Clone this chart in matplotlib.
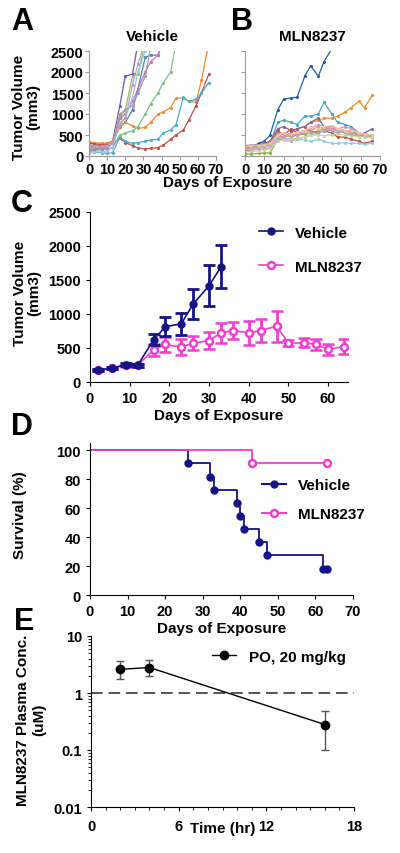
import numpy as np
import matplotlib
matplotlib.use('Agg')
import matplotlib.pyplot as plt

plt.rcParams['font.family'] = ['Liberation Sans', 'DejaVu Sans']
plt.rcParams['font.weight'] = 'bold'
plt.rcParams['axes.labelweight'] = 'bold'

# ---- data ----
# A / B: individual tumours (days of measurement)
days_ab = [0, 3, 7, 10, 13, 17, 20, 24, 27, 31, 34, 38, 41, 45, 48, 52, 55, 59, 62, 66]
veh_colors = ['#6E5AA8', '#4F81BD', '#A8B84A', '#F08A2C', '#C0504D', '#4BACC6',
              '#7CC08A', '#D070B0', '#93CDDD', '#A0A0A0', '#B3A2C7']
veh_mice = [
    [200, 230, 260, 300, 350, 1200, 1900, 1950, 2700],
    [150, 170, 200, 220, 300, 700, 800, 1100, 1600, 2350, 2400, 2400, 2800],
    [250, 260, 280, 300, 350, 900, 1100, 1900, 1950, 2700],
    [330, 320, 300, 310, 350, 700, 800, 720, 660, 680, 800, 1000, 1050, 1150, 1380, 1380, 1300, 1280, 1800, 2700],
    [300, 290, 270, 260, 300, 420, 320, 250, 190, 170, 180, 200, 260, 400, 500, 620, 850, 1200, 1500, 1950],
    [100, 90, 80, 60, 80, 450, 350, 300, 320, 350, 380, 400, 550, 620, 750, 1400, 1300, 1350, 1500, 1750],
    [120, 130, 150, 170, 200, 500, 550, 600, 700, 1000, 1250, 1500, 1750, 2000, 2700],
    [150, 160, 170, 200, 300, 900, 1000, 1300, 1600, 2000, 2250, 2400, 2700],
    [80, 90, 100, 120, 200, 800, 900, 1400, 2000, 2500, 2700],
    [200, 210, 220, 250, 300, 1000, 1100, 1200, 1500, 1900, 2600],
    [250, 240, 230, 240, 300, 750, 900, 1700, 2200, 2700],
]
mln_colors = ['#1F5FA8', '#3FA9C4', '#F08A2C', '#8064A2', '#C0504D', '#8CB43C',
              '#93CDDD', '#A5A5A5', '#E58FC0', '#B3A2C7', '#C4D79B', '#FAC090']
mln_mice = [
    [150, 200, 300, 350, 500, 1100, 1350, 1380, 1400, 1900, 2150, 1900, 2250, 2550],
    [100, 150, 200, 250, 300, 800, 850, 800, 750, 950, 950, 1000, 1280, 1000, 800, 750, 700, 550, 500, 480],
    [150, 180, 250, 300, 330, 500, 450, 550, 650, 700, 800, 850, 900, 900, 950, 1050, 1150, 1300, 1150, 1450],
    [200, 230, 260, 300, 350, 650, 700, 600, 650, 700, 800, 900, 700, 700, 650, 600, 600, 500, 550, 650],
    [200, 220, 250, 280, 300, 600, 500, 650, 550, 600, 600, 550, 600, 550, 450, 450, 400, 350, 300, 350],
    [50, 50, 60, 70, 80, 400, 450, 500, 500, 520, 550, 600, 650, 650, 600, 550, 500, 500, 480, 450],
    [150, 170, 200, 220, 250, 450, 400, 420, 400, 380, 350, 400, 350, 300, 300, 320, 300, 300, 280, 300],
    [250, 260, 270, 280, 300, 550, 500, 450, 500, 550, 600, 700, 650, 600, 550, 600, 550, 500, 500, 480],
    [180, 190, 200, 220, 260, 500, 450, 500, 520, 600, 650, 750, 700, 650, 650, 700, 650, 550, 500, 500],
    [120, 130, 150, 170, 200, 400, 380, 350, 400, 450, 500, 550, 600, 620, 600, 550, 500, 480, 450, 450],
    [100, 110, 130, 150, 180, 350, 380, 400, 420, 450, 500, 500, 480, 500, 520, 500, 480, 460, 450, 440],
    [220, 230, 250, 260, 300, 500, 550, 520, 560, 600, 700, 650, 700, 720, 650, 600, 600, 550, 520, 500],
]

# C: mean tumour volume
days_c = [2, 5.5, 9, 12, 16, 19, 23, 26, 30, 33, 36, 40, 43, 47, 50, 54, 57, 60, 64]
veh_mean = [171, 205, 255, 244, 620, 815, 855, 1147, 1416, 1694]
veh_err = [15, 15, 20, 20, 80, 135, 160, 220, 300, 315]
mln_mean = [171, 205, 244, 244, 474, 552, 513, 571, 610, 723, 757, 723, 757, 820, 571, 576, 552, 479, 522]
mln_err = [15, 15, 20, 20, 85, 110, 120, 100, 130, 150, 130, 180, 170, 225, 40, 65, 80, 80, 110]

# D: survival
veh_t = [0, 26, 32, 33, 39, 40, 41, 45, 47, 62, 63]
veh_s = [100, 90.9, 81.8, 72.7, 63.6, 54.5, 45.5, 36.4, 27.3, 18.2, 18.2]
mln_t = [0, 43, 63]
mln_s = [100, 90.9, 90.9]

# E: plasma PK
pk_t = [2, 4, 16]
pk_c = [2.6, 2.8, 0.28]
pk_lo = [1.75, 1.95, 0.10]
pk_hi = [3.6, 3.75, 0.48]

NAVY = '#141485'
MAG = '#F43CD0'

W, H = 400, 854
fig = plt.figure(figsize=(W / 100, H / 100), dpi=100)


def box(x0, y0, x1, y1):
    # pixel box (top-left origin) -> figure fraction
    return [x0 / W, 1 - y1 / H, (x1 - x0) / W, (y1 - y0) / H]


def style(ax, col='black', fs=10.5):
    for s in ['top', 'right']:
        ax.spines[s].set_visible(False)
    for s in ['left', 'bottom']:
        ax.spines[s].set_color(col)
    ax.tick_params(direction='out', colors=col, labelcolor='black', labelsize=fs, length=3)
    for lab in ax.get_xticklabels() + ax.get_yticklabels():
        lab.set_fontweight('bold')


# ---- A ----
axA = fig.add_axes(box(89, 52, 216, 157))
for vals, c in zip(veh_mice, veh_colors):
    axA.plot(days_ab[:len(vals)], vals, color=c, lw=0.9, marker='.', ms=2.5)
axA.set_xlim(0, 70)
axA.set_ylim(0, 2500)
axA.set_xticks(range(0, 71, 10))
axA.set_yticks(range(0, 2501, 500))
style(axA, '#999999')
axA.tick_params(pad=1)
axA.set_title('Vehicle', fontsize=11, fontweight='bold', pad=8)

# ---- B ----
axB = fig.add_axes(box(245, 52, 380, 157))
for vals, c in zip(mln_mice, mln_colors):
    axB.plot(days_ab[:len(vals)], vals, color=c, lw=0.9, marker='.', ms=2.5)
axB.set_xlim(0, 70)
axB.set_ylim(0, 2500)
axB.set_xticks(range(0, 71, 10))
axB.set_yticks(range(0, 2501, 500))
axB.set_yticklabels([])
style(axB, '#999999')
axB.tick_params(pad=1)
axB.set_title('MLN8237', fontsize=11, fontweight='bold', pad=8)

fig.text(228 / W, 1 - 183 / H, 'Days of Exposure', ha='center', va='center', fontsize=11, fontweight='bold')
fig.text(26 / W, 1 - 107 / H, 'Tumor Volume\n(mm3)', ha='center', va='center', rotation=90,
         fontsize=11, fontweight='bold', linespacing=1.0)

# ---- C ----
axC = fig.add_axes(box(90, 213, 348, 383))
axC.errorbar(days_c[:len(veh_mean)], veh_mean, yerr=veh_err, color=NAVY, lw=1.2, elinewidth=2,
             capsize=4, capthick=2, marker='o', ms=5, label='Vehicle', zorder=3)
axC.errorbar(days_c, mln_mean, yerr=mln_err, color=MAG, lw=1.2, elinewidth=2, capsize=4, capthick=2,
             marker='o', ms=5, mfc='white', mec=MAG, mew=1.8, label='MLN8237', zorder=2)
axC.set_xlim(0, 65)
axC.set_ylim(0, 2500)
axC.set_xticks(range(0, 61, 10))
axC.set_yticks(range(0, 2501, 500))
style(axC)
axC.set_xlabel('Days of Exposure', fontsize=11, fontweight='bold', labelpad=2)
h, l = axC.get_legend_handles_labels()
h = [x[0] for x in h]
axC.legend(h, l, loc='upper left', bbox_to_anchor=(0.6, 1.0), frameon=False,
           labelspacing=1.3, handlelength=1.6, prop={'weight': 'bold', 'size': 11})
fig.text(27 / W, 1 - 293 / H, 'Tumor Volume\n(mm3)', ha='center', va='center', rotation=90,
         fontsize=11, fontweight='bold', linespacing=1.0)

# ---- D ----
axD = fig.add_axes(box(90, 444, 353, 596))
axD.step(veh_t, veh_s, where='post', color=NAVY, lw=1.3)
axD.plot(veh_t[1:], veh_s[1:], 'o', color=NAVY, ms=5)
axD.step(mln_t, mln_s, where='post', color=MAG, lw=1.3)
axD.plot(mln_t[1:], mln_s[1:], 'o', color=MAG, ms=5, mfc='white', mew=1.8)
axD.plot([], [], '-o', color=NAVY, ms=5, label='Vehicle')
axD.plot([], [], '-o', color=MAG, ms=5, mfc='white', mew=1.8, label='MLN8237')
axD.set_xlim(0, 70)
axD.set_ylim(0, 105)
axD.set_xticks(range(0, 71, 10))
axD.set_yticks(range(0, 101, 20))
style(axD)
axD.set_xlabel('Days of Exposure', fontsize=11, fontweight='bold', labelpad=2)
axD.legend(loc='upper left', bbox_to_anchor=(0.6, 0.86), frameon=False, labelspacing=1.0,
           handlelength=1.6, prop={'weight': 'bold', 'size': 11})
fig.text(20 / W, 1 - 515 / H, 'Survival (%)', ha='center', va='center', rotation=90,
         fontsize=11, fontweight='bold')

# ---- E ----
axE = fig.add_axes(box(91, 637, 354, 808))
yerr = [np.array(pk_c) - np.array(pk_lo), np.array(pk_hi) - np.array(pk_c)]
axE.errorbar(pk_t, pk_c, yerr=yerr, fmt='none', ecolor='#555555', elinewidth=1, capsize=3, zorder=2)
axE.plot(pk_t, pk_c, '-o', color='black', lw=1, ms=6, label='PO, 20 mg/kg', zorder=3)
axE.axhline(1, color='#555555', lw=1.4, ls=(0, (6, 3)), zorder=1)
axE.set_yscale('log')
axE.set_xlim(0, 18)
axE.set_ylim(0.01, 10)
axE.set_xticks([0, 6, 12, 18])
axE.set_xticks(range(0, 19), minor=True)
axE.set_yticks([0.01, 0.1, 1, 10])
axE.set_yticklabels(['0.01', '0.1', '1', '10'])
style(axE)
axE.tick_params(which='minor', direction='out', length=2)
axE.tick_params(axis='x', pad=6)
axE.set_xlabel('Time (hr)', fontsize=11, fontweight='bold', labelpad=-9)
axE.legend(loc='upper right', bbox_to_anchor=(1.02, 1.0), frameon=False, handlelength=1.6,
           prop={'weight': 'bold', 'size': 11})
fig.text(31 / W, 1 - 720 / H, 'MLN8237 Plasma Conc.\n(uM)', ha='center', va='center', rotation=90,
         fontsize=11, fontweight='bold', linespacing=1.2)

# panel letters
for (x, y, s) in [(22, 22, 'A'), (242, 22, 'B'), (22, 204, 'C'), (22, 427, 'D'), (24, 622, 'E')]:
    fig.text(x / W, 1 - y / H, s, ha='center', va='center', fontsize=22, fontweight='bold')

fig.savefig('out.png', dpi=100)
